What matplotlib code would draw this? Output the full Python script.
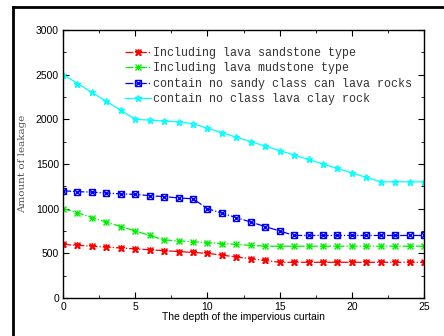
import numpy as np
import matplotlib
matplotlib.use("Agg")
import matplotlib.pyplot as plt
from matplotlib.lines import Line2D
from matplotlib.legend_handler import HandlerTuple
from matplotlib.ticker import MultipleLocator

# data
depth = list(range(26))
sandstone = [600, 590, 580, 570, 560, 550, 540, 530, 520, 510, 500, 480, 460, 440, 420,
             400, 400, 400, 400, 400, 400, 400, 400, 400, 400, 400]
mudstone = [1000, 955, 900, 850, 800, 750, 700, 650, 640, 630, 620, 610, 600, 590, 580,
            580, 580, 580, 580, 580, 580, 580, 580, 580, 580, 580]
no_sandy = [1200, 1190, 1185, 1175, 1165, 1160, 1145, 1135, 1120, 1110, 1000, 950, 900, 850, 800,
            750, 700, 700, 700, 700, 700, 700, 700, 700, 700, 700]
no_clay = [2500, 2400, 2300, 2200, 2100, 2000, 1990, 1980, 1970, 1950, 1900, 1850, 1800, 1750, 1700,
           1650, 1600, 1550, 1500, 1450, 1400, 1350, 1300, 1300, 1300, 1300]
labels = ["Including lava sandstone type",
          "Including lava mudstone type",
          "contain no sandy class can lava rocks",
          "contain no class lava clay rock"]

fig = plt.figure(figsize=(4.44, 3.36), dpi=100)
ax = fig.add_axes([0.142, 0.113, 0.813, 0.798])

# series: (values, color, linestyle, markers)
series = [
    (sandstone, "#ff0000", "-.", ["x", "*"]),
    (mudstone, "#00ee00", "-.", ["x", "+"]),
    (no_sandy, "#0000ff", "-.", ["s", "x"]),
    (no_clay, "#00ffff", "-", ["*"]),
]
handles = []
for vals, col, ls, mks in series:
    ln, = ax.plot(depth, vals, color=col, linestyle=ls, linewidth=0.9,
                  marker=mks[0], markersize=5, markerfacecolor="none", markeredgewidth=1.0)
    hs = [ln]
    for m in mks[1:]:
        o, = ax.plot(depth, vals, color=col, linestyle="none", marker=m,
                     markersize=5, markeredgewidth=1.0)
        hs.append(o)
    handles.append(tuple(hs))

ax.set_xlim(0, 25)
ax.set_ylim(0, 3000)
ax.xaxis.set_major_locator(MultipleLocator(5))
ax.xaxis.set_minor_locator(MultipleLocator(2.5))
ax.yaxis.set_major_locator(MultipleLocator(500))
ax.yaxis.set_minor_locator(MultipleLocator(250))
ax.tick_params(which="both", direction="in", top=True, right=True, labelsize=7.5, pad=3)
ax.tick_params(which="major", length=4)
ax.tick_params(which="minor", length=2)
for s in ax.spines.values():
    s.set_linewidth(1.0)
for t in ax.get_xticklabels() + ax.get_yticklabels():
    t.set_family("Liberation Sans")

ax.set_xlabel("The depth of the impervious curtain", family="Liberation Sans", fontsize=7.5, labelpad=0)
ax.set_ylabel("Amount of leakage", family="DejaVu Serif", fontsize=7.5, color="#555555")
ax.yaxis.set_label_coords(-0.1, 0.5)

leg = ax.legend(handles, labels, handler_map={tuple: HandlerTuple(ndivide=1, pad=0)},
                loc="upper left", bbox_to_anchor=(0.16, 0.955), frameon=False,
                prop={"family": "Liberation Mono", "size": 8.4}, handlelength=2.2,
                handletextpad=0.2, labelspacing=0.3, borderaxespad=0)
for t in leg.get_texts():
    t.set_color("#333333")

# black frame at top and left of figure
fig.add_artist(Line2D([13 / 444, 1], [1 - 7 / 336, 1 - 7 / 336], transform=fig.transFigure,
                      color="black", linewidth=2))
fig.add_artist(Line2D([13 / 444, 13 / 444], [0, 1 - 7 / 336], transform=fig.transFigure,
                      color="black", linewidth=2))

fig.savefig("out.png", dpi=100)
